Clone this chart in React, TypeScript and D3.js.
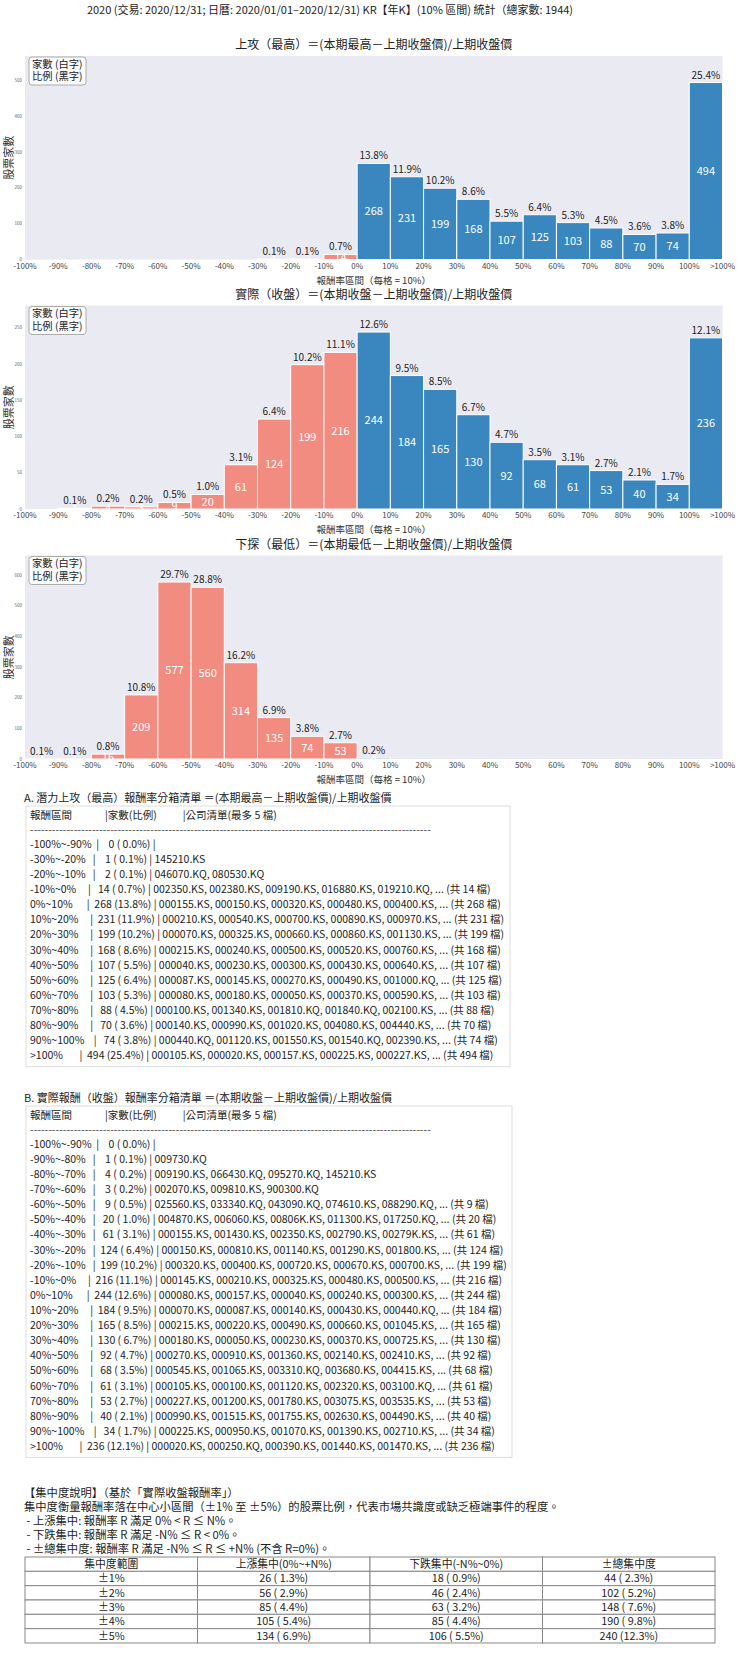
import React from 'react';
import * as d3 from 'd3';

const TOTAL = 1944;
const FONT = '"Noto Sans CJK TC", "Noto Sans", sans-serif';

const tickLabels = ['-100%','-90%','-80%','-70%','-60%','-50%','-40%','-30%','-20%','-10%','0%','10%','20%','30%','40%','50%','60%','70%','80%','90%','100%','>100%'];
const highCounts = [0,0,0,0,0,0,0,1,2,14,268,231,199,168,107,125,103,88,70,74,494];
const closeCounts = [0,1,4,3,9,20,61,124,199,216,244,184,165,130,92,68,61,53,40,34,236];
const lowCounts = [1,1,16,209,577,560,314,135,74,53,4,0,0,0,0,0,0,0,0,0,0];
const chartTitles = ['上攻（最高）＝(本期最高－上期收盤價)/上期收盤價','實際（收盤）＝(本期收盤－上期收盤價)/上期收盤價','下探（最低）＝(本期最低－上期收盤價)/上期收盤價'];
const mainTitle = '2020 (交易: 2020/12/31; 日曆: 2020/01/01–2020/12/31) KR【年K】(10% 區間) 統計（總家數: 1944)';
const xLabel = '報酬率區間（每格 = 10%）';

const aLabels = ['-100%~-90%','-30%~-20%','-20%~-10%','-10%~0%','0%~10%','10%~20%','20%~30%','30%~40%','40%~50%','50%~60%','60%~70%','70%~80%','80%~90%','90%~100%','>100%'];
const aCounts = [0,1,2,14,268,231,199,168,107,125,103,88,70,74,494];
const aCodes = [
  '',
  '145210.KS',
  '046070.KQ, 080530.KQ',
  '002350.KS, 002380.KS, 009190.KS, 016880.KS, 019210.KQ',
  '000155.KS, 000150.KS, 000320.KS, 000480.KS, 000400.KS',
  '000210.KS, 000540.KS, 000700.KS, 000890.KS, 000970.KS',
  '000070.KS, 000325.KS, 000660.KS, 000860.KS, 001130.KS',
  '000215.KS, 000240.KS, 000500.KS, 000520.KS, 000760.KS',
  '000040.KS, 000230.KS, 000300.KS, 000430.KS, 000640.KS',
  '000087.KS, 000145.KS, 000270.KS, 000490.KS, 001000.KQ',
  '000080.KS, 000180.KS, 000050.KS, 000370.KS, 000590.KS',
  '000100.KS, 001340.KS, 001810.KQ, 001840.KQ, 002100.KS',
  '000140.KS, 000990.KS, 001020.KS, 004080.KS, 004440.KS',
  '000440.KQ, 001120.KS, 001550.KS, 001540.KQ, 002390.KS',
  '000105.KS, 000020.KS, 000157.KS, 000225.KS, 000227.KS',
];

const bLabels = ['-100%~-90%','-90%~-80%','-80%~-70%','-70%~-60%','-60%~-50%','-50%~-40%','-40%~-30%','-30%~-20%','-20%~-10%','-10%~0%','0%~10%','10%~20%','20%~30%','30%~40%','40%~50%','50%~60%','60%~70%','70%~80%','80%~90%','90%~100%','>100%'];
const bCounts = [0,1,4,3,9,20,61,124,199,216,244,184,165,130,92,68,61,53,40,34,236];
const bCodes = [
  '',
  '009730.KQ',
  '009190.KS, 066430.KQ, 095270.KQ, 145210.KS',
  '002070.KS, 009810.KS, 900300.KQ',
  '025560.KS, 033340.KQ, 043090.KQ, 074610.KS, 088290.KQ',
  '004870.KS, 006060.KS, 00806K.KS, 011300.KS, 017250.KQ',
  '000155.KS, 001430.KS, 002350.KS, 002790.KS, 00279K.KS',
  '000150.KS, 000810.KS, 001140.KS, 001290.KS, 001800.KS',
  '000320.KS, 000400.KS, 000720.KS, 000670.KS, 000700.KS',
  '000145.KS, 000210.KS, 000325.KS, 000480.KS, 000500.KS',
  '000080.KS, 000157.KS, 000040.KS, 000240.KS, 000300.KS',
  '000070.KS, 000087.KS, 000140.KS, 000430.KS, 000440.KQ',
  '000215.KS, 000220.KS, 000490.KS, 000660.KS, 001045.KS',
  '000180.KS, 000050.KS, 000230.KS, 000370.KS, 000725.KS',
  '000270.KS, 000910.KS, 001360.KS, 002140.KS, 002410.KS',
  '000545.KS, 001065.KS, 003310.KQ, 003680.KS, 004415.KS',
  '000105.KS, 000100.KS, 001120.KS, 002320.KS, 003100.KQ',
  '000227.KS, 001200.KS, 001780.KS, 003075.KS, 003535.KS',
  '000990.KS, 001515.KS, 001755.KS, 002630.KS, 004490.KS',
  '000225.KS, 000950.KS, 001070.KS, 001390.KS, 002710.KS',
  '000020.KS, 000250.KQ, 000390.KS, 001440.KS, 001470.KS',
];

const concTitle = '【集中度說明】（基於「實際收盤報酬率」）';
const concLines = [
  '集中度衡量報酬率落在中心小區間（±1% 至 ±5%）的股票比例，代表市場共識度或缺乏極端事件的程度。',
  ' - 上漲集中: 報酬率 R 滿足 0% < R ≤ N%。',
  ' - 下跌集中: 報酬率 R 滿足 -N% ≤ R < 0%。',
  ' - ±總集中度: 報酬率 R 滿足 -N% ≤ R ≤ +N% (不含 R=0%)。',
];
const concHeader = ['集中度範圍','上漲集中(0%~+N%)','下跌集中(-N%~0%)','±總集中度'];
const concLabels = ['±1%','±2%','±3%','±4%','±5%'];
const upCounts = [26,56,85,105,134];
const downCounts = [18,46,63,85,106];
const totCounts = [44,102,148,190,240];

const BLUE = '#3a87c0';
const SALMON = '#f28b80';
const BG = '#eaeaf2';

const pct = (c: number) => ((c / TOTAL) * 100).toFixed(1);
const nb = (s: string) => s.replace(/ /g, '\u00a0');

const PLOT_L = 25, PLOT_R = 722.5, PLOT_H = 203.5;

function BarChart({ counts, title, top }: { counts: number[]; title: string; top: number }) {
  const x = d3.scaleLinear().domain([0, counts.length]).range([PLOT_L, PLOT_R]);
  const maxV = d3.max(counts) as number;
  const y = d3.scaleLinear().domain([0, maxV * 1.15]).range([top + PLOT_H, top]);
  const yTicks = y.ticks(6);
  const bottom = top + PLOT_H;
  const cx = (PLOT_L + PLOT_R) / 2;
  return (
    <g>
      <text x={cx} y={top - 7} textAnchor="middle" fontSize={12} fill="#222">{title}</text>
      <rect x={PLOT_L} y={top} width={PLOT_R - PLOT_L} height={PLOT_H} fill={BG} />
      {counts.map((c, i) => c > 0 ? (
        <rect key={'b' + i} x={x(i)} y={y(c)} width={x(i + 1) - x(i)} height={bottom - y(c)}
          fill={i < 10 ? SALMON : BLUE} stroke="#fff" strokeWidth={1} />
      ) : null)}
      {counts.map((c, i) => c > 0 ? (
        <text key={'c' + i} x={(x(i) + x(i + 1)) / 2} y={(y(c) + bottom) / 2} dy="0.36em"
          textAnchor="middle" fontSize={11} fill="#fff">{c}</text>
      ) : null)}
      {counts.map((c, i) => c > 0 ? (
        <text key={'p' + i} x={(x(i) + x(i + 1)) / 2} y={y(c) - 4}
          textAnchor="middle" fontSize={10} fill="#222">{pct(c) + '%'}</text>
      ) : null)}
      {tickLabels.map((t, i) => (
        <text key={'t' + i} x={x(i)} y={bottom + 9} textAnchor="middle" fontSize={8} fill="#444">{t}</text>
      ))}
      {yTicks.map((t) => (
        <text key={'y' + t} x={22} y={y(t)} dy="0.35em" textAnchor="end" fontSize={4.5} fill="#666">{t}</text>
      ))}
      <text transform={`translate(9,${top + PLOT_H / 2}) rotate(-90)`} textAnchor="middle" dy="0.35em" fontSize={11} fill="#333">股票家數</text>
      <text x={cx} y={bottom + 24} textAnchor="middle" fontSize={9.5} fill="#333">{xLabel}</text>
      <rect x={29} y={top + 1} width={57} height={28} rx={3} fill="#fff" fillOpacity={0.85} stroke="#999" strokeWidth={0.8} />
      <text x={32} y={top + 11.5} fontSize={10.3} fill="#222">家數 (白字)</text>
      <text x={32} y={top + 24} fontSize={10.3} fill="#222">比例 (黑字)</text>
    </g>
  );
}

function rowText(label: string, count: number, codes: string) {
  const p = ((count / TOTAL) * 100).toFixed(1).padStart(4);
  let s = `${label.padEnd(12)}| ${String(count).padStart(4)} (${p}%) |`;
  if (codes) s += ' ' + codes + (count > 5 ? `, ... (共 ${count} 檔)` : '');
  return nb(s);
}

const listHeader = '報酬區間              |家數(比例)           |公司清單(最多 5 檔)';

function ListBox({ title, labels, counts, codes, top, width }: { title: string; labels: string[]; counts: number[]; codes: string[]; top: number; width: number }) {
  const rowH = 15.12;
  const boxTop = top + 8;
  const firstRow = top + 46;
  const boxH = firstRow - boxTop + (labels.length - 1) * rowH + 11;
  return (
    <g>
      <text x={24} y={top} dy="0.35em" fontSize={11} fill="#222">{title}</text>
      <rect x={26} y={boxTop} width={width} height={boxH} fill="#fff" stroke="#ddd" strokeWidth={1} />
      <text x={30} y={top + 17} dy="0.35em" fontSize={10.5} fill="#222">{nb(listHeader)}</text>
      <text x={30} y={top + 31} dy="0.35em" fontSize={10.5} fill="#444">{'-'.repeat(110)}</text>
      {labels.map((l, i) => (
        <text key={i} x={30} y={firstRow + i * rowH} dy="0.35em" fontSize={10.5} fill="#222">
          {rowText(l, counts[i], codes[i])}
        </text>
      ))}
    </g>
  );
}

function ConcTable({ top }: { top: number }) {
  const left = 25, colW = 172.5, rowH = 14.33;
  const rows = concLabels.map((l, i) => [
    l,
    `${upCounts[i]} (${pct(upCounts[i]).padStart(4)}%)`,
    `${downCounts[i]} (${pct(downCounts[i]).padStart(4)}%)`,
    `${totCounts[i]} (${pct(totCounts[i]).padStart(4)}%)`,
  ]);
  const all = [concHeader, ...rows];
  return (
    <g>
      {all.map((r, ri) => (
        <g key={ri}>
          {r.map((cell, ci) => (
            <g key={ci}>
              <rect x={left + ci * colW} y={top + ri * rowH} width={colW} height={rowH} fill="#fff" stroke="#888" strokeWidth={1} />
              <text x={left + ci * colW + colW / 2} y={top + ri * rowH + rowH / 2} dy="0.35em" textAnchor="middle"
                fontSize={10.8} fill="#222">{nb(cell)}</text>
            </g>
          ))}
        </g>
      ))}
    </g>
  );
}

export default function App() {
  return (
    <svg width={740} height={1666} style={{ position: 'absolute', left: 0, top: 0, fontFamily: FONT, background: '#fff' }}>
      <text x={330} y={10} dy="0.35em" textAnchor="middle" fontSize={11} fill="#222">{mainTitle}</text>
      <BarChart counts={highCounts} title={chartTitles[0]} top={56} />
      <BarChart counts={closeCounts} title={chartTitles[1]} top={305.5} />
      <BarChart counts={lowCounts} title={chartTitles[2]} top={555.5} />
      <ListBox title="A. 潛力上攻（最高）報酬率分箱清單 ＝(本期最高－上期收盤價)/上期收盤價" labels={aLabels} counts={aCounts} codes={aCodes} top={798} width={484} />
      <ListBox title="B. 實際報酬（收盤）報酬率分箱清單 ＝(本期收盤－上期收盤價)/上期收盤價" labels={bLabels} counts={bCounts} codes={bCodes} top={1098} width={486} />
      <text x={24} y={1493} dy="0.35em" fontSize={11.3} fill="#222">{concTitle}</text>
      {concLines.map((l, i) => (
        <text key={i} x={24} y={1507 + i * 14} dy="0.35em" fontSize={11.3} fill="#222">{nb(l)}</text>
      ))}
      <ConcTable top={1557} />
    </svg>
  );
}
